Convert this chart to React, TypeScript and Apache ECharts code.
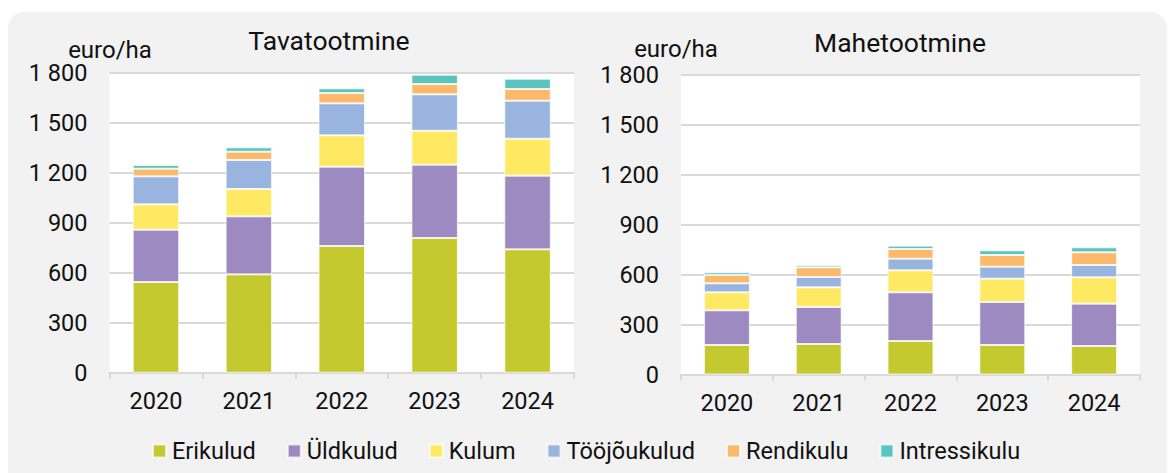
import React, { useEffect, useRef } from "react";
import * as echarts from "echarts";

const years = ["2020", "2021", "2022", "2023", "2024"];
const seriesNames = ["Erikulud", "Üldkulud", "Kulum", "Tööjõukulud", "Rendikulu", "Intressikulu"];
const colors = ["#c4c92f", "#9c8ac0", "#ffe963", "#99b4de", "#fbb96b", "#5bc4bf"];

// Tavatootmine (conventional), euro/ha
const convErikulud = [544, 590, 760, 808, 740];
const convYldkulud = [314, 348, 476, 440, 442];
const convKulum = [152, 164, 188, 204, 222];
const convToojoukulud = [168, 174, 192, 218, 228];
const convRendikulu = [46, 50, 62, 62, 70];
const convIntressikulu = [22, 26, 28, 56, 62];

// Mahetootmine (organic), euro/ha
const orgErikulud = [177, 183, 201, 177, 171];
const orgYldkulud = [208, 222, 292, 258, 254];
const orgKulum = [108, 118, 132, 140, 158];
const orgToojoukulud = [54, 62, 70, 72, 74];
const orgRendikulu = [50, 58, 58, 70, 76];
const orgIntressikulu = [16, 14, 20, 28, 30];

const yTicksMax = 1800;
const yInterval = 300;

const titles = ["Tavatootmine", "Mahetootmine"];
const unitLabel = "euro/ha";

const FONT = "Roboto, 'Noto Sans', sans-serif";
const TEXT = "#111111";
const FS = 23.5;

export default function App() {
  const ref = useRef<HTMLDivElement>(null);
  useEffect(() => {
    if (!ref.current) return;
    const chart = echarts.init(ref.current, null, { renderer: "svg" });
    const conv = [convErikulud, convYldkulud, convKulum, convToojoukulud, convRendikulu, convIntressikulu];
    const org = [orgErikulud, orgYldkulud, orgKulum, orgToojoukulud, orgRendikulu, orgIntressikulu];

    const fmt = (v: number) => String(v).replace(/\B(?=(\d{3})+(?!\d))/g, " ");

    const mkX = (gi: number) => ({
      type: "category",
      gridIndex: gi,
      data: years,
      axisLine: { show: true, lineStyle: { color: "#d9d9d9", width: 2 } },
      axisTick: { show: true, length: 6, lineStyle: { color: "#d9d9d9", width: 2 } },
      axisLabel: { color: TEXT, fontSize: FS, fontFamily: FONT, margin: 16 },
    });
    const mkY = (gi: number) => ({
      type: "value",
      gridIndex: gi,
      min: 0,
      max: yTicksMax,
      interval: yInterval,
      axisLine: { show: false },
      axisTick: { show: false },
      splitLine: { show: true, lineStyle: { color: "#d9d9d9", width: 2 } },
      axisLabel: { color: TEXT, fontSize: FS, fontFamily: FONT, margin: 22, formatter: fmt },
    });

    const series: any[] = [];
    [conv, org].forEach((set, gi) => {
      set.forEach((data, i) => {
        series.push({
          name: seriesNames[i],
          type: "bar",
          stack: "s" + gi,
          xAxisIndex: gi,
          yAxisIndex: gi,
          data,
          barWidth: "50%",
          itemStyle: { color: colors[i], borderColor: "rgba(255,255,255,0.7)", borderWidth: 1 },
        });
      });
    });

    chart.setOption({
      animation: false,
      color: colors,
      backgroundColor: "#ffffff",
      graphic: [
        {
          type: "rect",
          z: -10,
          silent: true,
          shape: { x: 8, y: 12, width: 1159, height: 480, r: 16 },
          style: { fill: "#f2f2f2" },
        },
        {
          type: "text",
          x: 329,
          y: 40,
          style: { text: titles[0], fill: TEXT, font: `26.5px ${FONT}`, textAlign: "center", textVerticalAlign: "middle" },
        },
        {
          type: "text",
          x: 900,
          y: 42,
          style: { text: titles[1], fill: TEXT, font: `26.5px ${FONT}`, textAlign: "center", textVerticalAlign: "middle" },
        },
        {
          type: "text",
          x: 110,
          y: 50,
          style: { text: unitLabel, fill: TEXT, font: `24px ${FONT}`, textAlign: "center", textVerticalAlign: "middle" },
        },
        {
          type: "text",
          x: 676,
          y: 49,
          style: { text: unitLabel, fill: TEXT, font: `24px ${FONT}`, textAlign: "center", textVerticalAlign: "middle" },
        },
      ],
      grid: [
        { left: 109.5, right: 1173 - 574, top: 72.7, bottom: 473 - 372.7, show: true, backgroundColor: "#ffffff", borderWidth: 0 },
        { left: 681, right: 1173 - 1140, top: 74.5, bottom: 473 - 374.5, show: true, backgroundColor: "#ffffff", borderWidth: 0 },
      ],
      xAxis: [mkX(0), mkX(1)],
      yAxis: [mkY(0), mkY(1)],
      legend: {
        data: seriesNames,
        left: 147,
        top: 434,
        itemWidth: 13,
        itemHeight: 13,
        itemGap: 31,
        icon: "rect",
        textStyle: { color: TEXT, fontSize: FS, fontFamily: FONT, padding: [0, 0, 0, 1] },
      },
      series,
    });
    return () => chart.dispose();
  }, []);
  return (
    <div
      ref={ref}
      style={{ position: "absolute", left: 0, top: 0, width: 1173, height: 473 }}
    />
  );
}
